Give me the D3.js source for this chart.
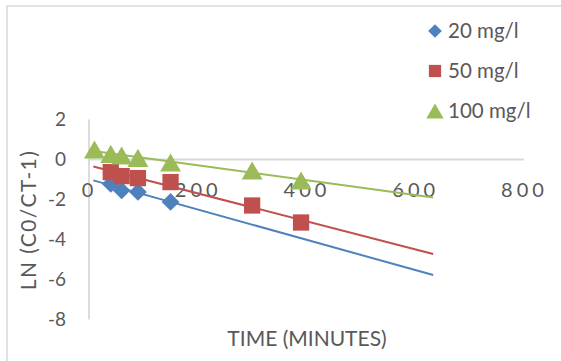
<!DOCTYPE html>
<html>
<head>
<meta charset="utf-8">
<script src="https://cdn.jsdelivr.net/npm/d3@7"></script>
<style>
  html, body { margin: 0; padding: 0; background: #fff; }
  svg { display: block; }
  text { font-family: Lato, "Open Sans", "Liberation Sans", sans-serif; fill: #595959; }
</style>
</head>
<body>
<svg id="chart" width="561" height="361"></svg>
<script>
// Time (minutes) and ln(C0/Ct - 1) for each initial concentration
const time20  = [40, 60, 90, 150];
const ln20    = [-1.22, -1.55, -1.62, -2.12];
const time50  = [40, 60, 90, 150, 300, 390];
const ln50    = [-0.63, -0.83, -0.93, -1.13, -2.30, -3.15];
const time100 = [10, 40, 60, 90, 150, 300, 390];
const ln100   = [0.50, 0.28, 0.20, 0.08, -0.15, -0.55, -1.05];

const seriesNames = ["20 mg/l", "50 mg/l", "100 mg/l"];
const xTicks = [0, 200, 400, 600, 800];
const yTicks = [2, 0, -2, -4, -6, -8];
// span of the linear trendlines (minutes)
const trendSpan = [8, 633];

const colors = ["#4F81BD", "#C0504D", "#9BBB59"];
const shapes = [d3.symbolDiamond2, d3.symbolSquare, d3.symbolTriangle];

const series = [
  { name: seriesNames[0], t: time20,  v: ln20 },
  { name: seriesNames[1], t: time50,  v: ln50 },
  { name: seriesNames[2], t: time100, v: ln100 }
];

// plain hyphen for negative numbers
const fmt = d => String(d);

const svg = d3.select("#chart");

// chart frame
svg.append("rect")
  .attr("x", 7).attr("y", 6).attr("width", 600).attr("height", 400)
  .attr("fill", "none").attr("stroke", "#d9d9d9").attr("stroke-width", 1.5);

// caption line above the frame (only its lowest strokes fall inside)
const cap = svg.append("g").style("font-family", "'Liberation Serif', serif").style("font-size", "18px");
cap.append("text").attr("x", 148).attr("y", -3).style("fill", "#000").text(",");
cap.append("text").attr("x", 420).attr("y", -3).style("fill", "#000").text("g");
cap.append("text").attr("x", 465).attr("y", -3).style("fill", "#000").text(",");

const x = d3.scaleLinear().domain([0, 800]).range([89, 524]);
const y = d3.scaleLinear().domain([-8, 2]).range([319.5, 119.5]);

// axis lines
svg.append("line")
  .attr("x1", x(0)).attr("x2", x(800)).attr("y1", y(0)).attr("y2", y(0))
  .attr("stroke", "#d9d9d9").attr("stroke-width", 1.8);
svg.append("line")
  .attr("x1", x(0)).attr("x2", x(0)).attr("y1", y(2)).attr("y2", y(-8))
  .attr("stroke", "#d9d9d9").attr("stroke-width", 1.8);

// x tick labels (sit below the zero line)
const xAxis = d3.axisBottom(x).tickValues(xTicks).tickSize(0).tickPadding(0).tickFormat(fmt);
const gx = svg.append("g").attr("transform", `translate(0,${y(0) + 30})`).call(xAxis);
gx.select(".domain").remove();
gx.selectAll("text")
  .attr("dy", "0.35em")
  .style("font-size", "20px").style("letter-spacing", "4px")
  .style("fill", "#595959");

// y tick labels
const yAxis = d3.axisLeft(y).tickValues(yTicks).tickSize(0).tickPadding(0).tickFormat(fmt);
const gy = svg.append("g").attr("transform", "translate(66,0)").call(yAxis);
gy.select(".domain").remove();
gy.selectAll("text").style("font-size", "19px").style("fill", "#595959");

// axis titles
svg.append("text")
  .attr("transform", "translate(29,220) rotate(-90)")
  .attr("text-anchor", "middle").attr("dy", "0.35em")
  .style("font-size", "21px").style("letter-spacing", "1.4px")
  .text("LN (C0/CT-1)");
svg.append("text")
  .attr("x", 307).attr("y", 339).attr("dy", "0.35em")
  .attr("text-anchor", "middle")
  .style("font-size", "21px").text("TIME (MINUTES)");

// least-squares trendlines
function fit(t, v) {
  const mx = d3.mean(t), my = d3.mean(v);
  let sxy = 0, sxx = 0;
  t.forEach((ti, i) => { sxy += (ti - mx) * (v[i] - my); sxx += (ti - mx) * (ti - mx); });
  const b = sxy / sxx;
  return { a: my - b * mx, b };
}
const line = d3.line().x(d => x(d[0])).y(d => y(d[1]));
series.forEach((s, i) => {
  const f = fit(s.t, s.v);
  const pts = trendSpan.map(t => [t, f.a + f.b * t]);
  svg.append("path").attr("d", line(pts))
    .attr("fill", "none").attr("stroke", colors[i]).attr("stroke-width", 2);
});

// markers; triangles are centred on their bounding box, not their centroid
const markerSizes = [200, 265, 190];
function symbolOffset(i, size) {
  if (i !== 2) return 0;
  const side = Math.sqrt(size * 4 / Math.sqrt(3));
  return side * Math.sqrt(3) / 2 / 6;
}
series.forEach((s, i) => {
  const sym = d3.symbol().type(shapes[i]).size(markerSizes[i]);
  const off = symbolOffset(i, markerSizes[i]);
  svg.append("g").selectAll("path")
    .data(s.t.map((t, j) => [t, s.v[j]]))
    .join("path")
    .attr("transform", d => `translate(${x(d[0])},${y(d[1]) + off})`)
    .attr("d", sym())
    .attr("fill", colors[i]);
});

// legend
const legendSizes = [120, 150, 130];
const lg = svg.append("g");
series.forEach((s, i) => {
  const cy = 31 + i * 40;
  lg.append("path")
    .attr("transform", `translate(435,${cy + symbolOffset(i, legendSizes[i])})`)
    .attr("d", d3.symbol().type(shapes[i]).size(legendSizes[i])())
    .attr("fill", colors[i]);
  lg.append("text").attr("x", 448).attr("y", cy).attr("dy", "0.35em")
    .style("font-size", "20.5px").text(s.name);
});
</script>
</body>
</html>
